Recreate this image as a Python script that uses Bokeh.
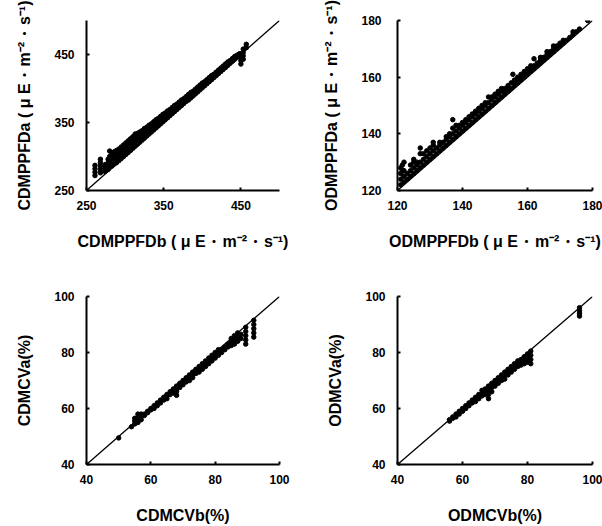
from bokeh.plotting import figure
from bokeh.layouts import gridplot
from bokeh.models import FixedTicker
from bokeh.embed import file_html
from bokeh.resources import INLINE

# ---------------- data ----------------
# Panel 1: CDMPPFD (b on x, a on y)
cd_ppfd_b = [261, 261, 261, 261,
             268, 268, 268, 268, 268,
             274, 274, 274,
             278, 278, 278, 278,
             280, 280, 280, 280,
             283, 283, 283, 283,
             286, 286, 286, 286,
             289, 289, 289, 289,
             292, 292, 292, 292,
             295, 295, 295, 295,
             298, 298, 298, 298,
             301, 301, 301, 301,
             304, 304, 304, 304,
             307, 307, 307, 307,
             310, 310, 310, 310,
             313, 313, 313, 313,
             316, 316, 316, 316,
             319, 319, 319, 319,
             322, 322, 322, 322,
             325, 325, 325, 325,
             328, 328, 328, 328,
             331, 331, 331, 331,
             334, 334, 334, 334,
             337, 337, 337, 337,
             340, 340, 340, 340,
             343, 343, 343, 343,
             346, 346, 346, 346,
             349, 349, 349, 349,
             352, 352, 352, 352,
             355, 355, 355, 355,
             358, 358, 358, 358,
             361, 361, 361, 361,
             364, 364, 364, 364,
             367, 367, 367, 367,
             370, 370, 370, 370,
             373, 373, 373, 373,
             376, 376, 376, 376,
             379, 379, 379, 379,
             382, 382, 382, 382,
             385, 385, 385, 385,
             388, 388, 388, 388,
             391, 391, 391, 391,
             394, 394, 394, 394,
             397, 397, 397, 397,
             400, 400, 400, 400,
             403, 403, 403, 403,
             406, 406, 406, 406,
             409, 409, 409, 409,
             412, 412, 412, 412,
             415, 415, 415, 415,
             418, 418, 418, 418,
             421, 421, 421, 421,
             424, 424, 424, 424,
             427, 427, 427, 427,
             430, 430, 430, 430,
             433, 433, 433, 433,
             436, 436, 436, 436,
             439, 439, 439, 439,
             442, 442, 442, 442,
             445, 445, 445,
             448, 448,
             450, 450, 450, 450,
             453, 453, 453, 453,
             457, 457]
cd_ppfd_a = [272, 277, 282, 287,
             276, 281, 286, 291, 296,
             278, 283, 288,
             281, 286, 291, 296,
             284, 290, 300, 308,
             286, 292, 298, 305,
             289, 295, 301, 307,
             291, 297, 303, 309,
             294, 300, 306, 311,
             297, 303, 309, 314,
             300, 306, 312, 317,
             303, 309, 315, 320,
             306, 312, 318, 323,
             309, 315, 321, 326,
             312, 318, 324, 329,
             315, 321, 327, 333,
             318, 323, 329, 334,
             321, 326, 331, 336,
             324, 329, 334, 338,
             327, 331, 336, 341,
             330, 334, 339, 343,
             333, 337, 342, 346,
             336, 340, 344, 348,
             339, 343, 347, 351,
             342, 346, 350, 354,
             345, 349, 353, 356,
             348, 352, 356, 359,
             351, 355, 358, 362,
             354, 357, 361, 364,
             357, 360, 364, 367,
             360, 363, 366, 369,
             363, 366, 369, 372,
             366, 369, 372, 375,
             369, 372, 375, 377,
             372, 375, 378, 380,
             375, 378, 381, 383,
             378, 380, 383, 385,
             381, 383, 386, 388,
             383, 386, 389, 391,
             386, 389, 392, 394,
             389, 392, 394, 396,
             392, 395, 397, 399,
             395, 398, 400, 402,
             398, 401, 403, 405,
             401, 404, 406, 408,
             404, 407, 409, 410,
             407, 410, 412, 413,
             410, 412, 414, 416,
             413, 415, 417, 419,
             416, 418, 420, 421,
             419, 421, 423, 424,
             422, 424, 426, 427,
             425, 427, 429, 430,
             428, 430, 431, 433,
             431, 433, 434, 436,
             434, 436, 437, 439,
             437, 439, 440, 441,
             440, 441, 443, 444,
             443, 444, 446, 447,
             446, 447, 449,
             449, 451,
             436, 441, 446, 451,
             443, 448, 453, 458,
             460, 465]

# Panel 2: ODMPPFD
od_ppfd_b = [121, 121, 121, 121, 121.5, 121.5, 122, 122, 122, 122, 123, 123, 124, 124, 124,
             125, 125, 125, 125, 126, 126, 126, 127, 127, 127, 127, 128, 128, 128, 129, 129, 129,
             130, 130, 130, 131, 131, 131, 131, 132, 132, 133, 133, 133, 134, 134, 135, 135, 135,
             136, 136, 136, 137, 137, 137, 137, 138, 138, 138, 139, 139, 139, 140, 140, 140,
             141, 141, 141, 142, 142, 142, 143, 143, 143, 144, 144, 144, 145, 145, 145,
             146, 146, 146, 147, 147, 147, 148, 148, 148, 149, 149, 149, 150, 150, 150,
             151, 151, 151, 152, 152, 152, 153, 153, 153, 154, 154, 154, 155, 155, 155.5,
             156, 156, 156, 157, 157, 157, 158, 158, 158, 159, 159, 159, 160, 160, 160,
             161, 161, 161, 162, 162, 162, 163, 163, 164, 164, 164, 165, 165, 166, 166, 166,
             167, 167, 168, 168, 168, 169, 169, 170, 170, 171, 171, 172, 173, 174, 174, 175, 176, 178.5]
od_ppfd_a = [122, 124, 126, 128, 127, 129, 123, 125, 127, 130, 124, 126, 125, 127, 129,
             126, 128, 130, 131, 127, 129, 130, 128, 130, 133, 135, 129, 131, 133, 130, 132, 134,
             131, 133, 135, 132, 134, 137, 136, 133, 135, 134, 136, 137, 135, 137, 136, 138, 139,
             137, 139, 140, 138, 140, 142, 145, 139, 141, 143, 140, 142, 143, 141, 143, 144,
             142, 144, 145, 143, 145, 146, 144, 146, 147, 145, 147, 148, 146, 148, 149,
             147, 149, 150, 148, 150, 151, 149, 151, 153, 150, 152, 153, 151, 153, 154,
             152, 154, 155, 153, 155, 156, 154, 155, 156, 155, 156, 157, 156, 158, 161,
             157, 158, 159, 158, 159, 160, 159, 160, 161, 160, 161, 162, 161, 162, 163,
             162, 163, 164, 163, 164, 166.5, 164, 165, 165, 166, 167, 166, 167, 167, 168, 169,
             168, 169, 169, 170, 171, 170, 171, 171, 172, 172, 173, 173, 174, 175, 176, 176, 177, 180]

# Panel 3: CDMCV
cd_cv_b = [50, 54, 55, 55, 55, 56, 56, 56, 56, 57, 57, 57, 58, 58, 59, 59, 60, 60, 61, 61, 62, 62,
           63, 63, 64, 64, 65, 65, 65, 66, 66, 67, 67, 67, 68, 68, 68, 68, 69, 69, 69, 70, 70, 70,
           71, 71, 71, 72, 72, 72, 73, 73, 73, 74, 74, 74, 75, 75, 75, 76, 76, 76, 77, 77, 77,
           78, 78, 78, 79, 79, 79, 80, 80, 80, 81, 81, 81, 82, 82, 83, 83, 84, 84, 85, 85, 85,
           86, 86, 86, 87, 87, 87, 88, 88, 89.5, 89.5, 89.5, 89.5, 89.5, 92, 92, 92, 92, 92]
cd_cv_a = [49.5, 53.5, 54.5, 55.5, 56.5, 55, 56, 57, 58, 56, 57, 58, 57.5, 58, 58.5, 59, 59.5, 60, 60, 61, 61, 62,
           62, 63, 63, 64, 63.5, 64.5, 65, 65, 66, 65.5, 66.5, 67, 64.7, 66, 67, 68, 67.5, 68.5, 69, 68.5, 69.5, 70,
           69.5, 70.5, 71, 70, 71, 72, 71, 72, 73, 72.5, 73.5, 74, 73, 74, 75, 74, 75, 76, 75, 76, 77,
           76, 77, 78, 77, 78, 79, 78, 79, 80, 79, 80, 81, 80, 81, 81, 82, 82, 83, 82.5, 84, 85,
           83, 84.5, 86, 84, 85.5, 87, 85, 86.5, 83, 84.5, 86, 87.5, 89, 85.5, 87, 88.5, 90, 91.5]

# Panel 4: ODMCV
od_cv_b = [56, 56, 57, 57, 58, 58, 59, 59, 60, 60, 61, 61, 62, 62, 63, 63, 64, 64, 64, 65, 65, 65,
           66, 66, 66, 67, 67, 67, 68, 68, 68, 68, 69, 69, 69, 70, 70, 70, 71, 71, 71, 72, 72, 72,
           73, 73, 73, 74, 74, 74, 75, 75, 75, 76, 76, 76, 77, 77, 77, 78, 78, 78, 79, 79, 79,
           80, 80, 80, 81, 81, 81, 81, 96, 96, 96, 96]
od_cv_a = [55.5, 56, 56.5, 57, 57, 58, 58, 59, 59, 60, 60, 61, 61, 62, 62, 63, 62.5, 63.5, 64, 63.5, 64.5, 65,
           64.5, 65.5, 66.5, 65, 66, 67, 63.5, 65, 66.5, 68, 66, 67.5, 69, 68, 69, 70, 69, 70, 71, 70, 71, 72,
           70.5, 72, 73, 72, 73, 74, 73, 74, 75, 74, 75, 76, 75, 76, 77, 75.5, 76.5, 77.5, 76, 77, 78.5,
           76.5, 78, 79.5, 76, 77.5, 79, 80.5, 93, 94, 95, 96]

cd_ppfd_range = [250, 500]
od_ppfd_range = [120, 180]
cv_range = [40, 100]

cd_ppfd_ticks = [250, 350, 450]
od_ppfd_ticks = [120, 140, 160, 180]
cv_ticks = [40, 60, 80, 100]

unit = " ( μ E ･ m⁻² ･ s⁻¹)"
labels = {
    "p1": ("CDMPPFDb" + unit, "CDMPPFDa" + unit),
    "p2": ("ODMPPFDb" + unit, "ODMPPFDa" + unit),
    "p3": ("CDMCVb(%)", "CDMCVa(%)"),
    "p4": ("ODMCVb(%)", "ODMCVa(%)"),
}

LABEL_FONT = "'Liberation Sans', 'Noto Sans CJK JP', sans-serif"
TICK_FONT = "'Liberation Sans', sans-serif"


def make(xs, ys, rng, ticks, xlab, ylab, w, h, bl, br, bt, bb):
    p = figure(width=w, height=h, x_range=(rng[0], rng[1]), y_range=(rng[0], rng[1]),
               output_backend="svg", toolbar_location=None,
               min_border_left=bl, min_border_right=br, min_border_top=bt, min_border_bottom=bb,
               background_fill_color="white", border_fill_color="white")
    p.line(rng, rng, color="black", line_width=1.3)
    p.scatter(xs, ys, size=4.5, color="black", marker="circle")
    p.grid.visible = False
    p.outline_line_color = None
    for ax in (p.xaxis, p.yaxis):
        ax.ticker = FixedTicker(ticks=ticks)
        ax.axis_line_width = 2
        ax.axis_line_color = "black"
        ax.major_tick_in = 3
        ax.major_tick_out = 0
        ax.major_tick_line_width = 2
        ax.minor_tick_line_color = None
        ax.major_label_text_font = TICK_FONT
        ax.major_label_text_font_style = "bold"
        ax.major_label_text_font_size = "12px"
        ax.major_label_text_color = "black"
        ax.axis_label_text_font = LABEL_FONT
        ax.axis_label_text_font_style = "bold"
        ax.axis_label_text_font_size = "16px"
        ax.axis_label_text_color = "black"
    p.xaxis.axis_label = xlab
    p.yaxis.axis_label = ylab
    p.xaxis.major_label_standoff = 10
    p.xaxis.axis_label_standoff = 20
    p.yaxis.major_label_standoff = 12
    p.yaxis.axis_label_standoff = 18
    return p


p1 = make(cd_ppfd_b, cd_ppfd_a, cd_ppfd_range, cd_ppfd_ticks, *labels["p1"], 301, 263, 86, 20, 17, 73)
p2 = make(od_ppfd_b, od_ppfd_a, od_ppfd_range, od_ppfd_ticks, *labels["p2"], 301, 263, 96, 10, 20, 73)
p3 = make(cd_cv_b, cd_cv_a, cv_range, cv_ticks, *labels["p3"], 301, 263, 85, 22, 33, 59)
p4 = make(od_cv_b, od_cv_a, cv_range, cv_ticks, *labels["p4"], 301, 263, 96, 8, 33, 59)
p2.yaxis.major_label_standoff = 16

grid = gridplot([[p1, p2], [p3, p4]], toolbar_location=None)

open("out.html", "w").write(file_html(grid, INLINE))
